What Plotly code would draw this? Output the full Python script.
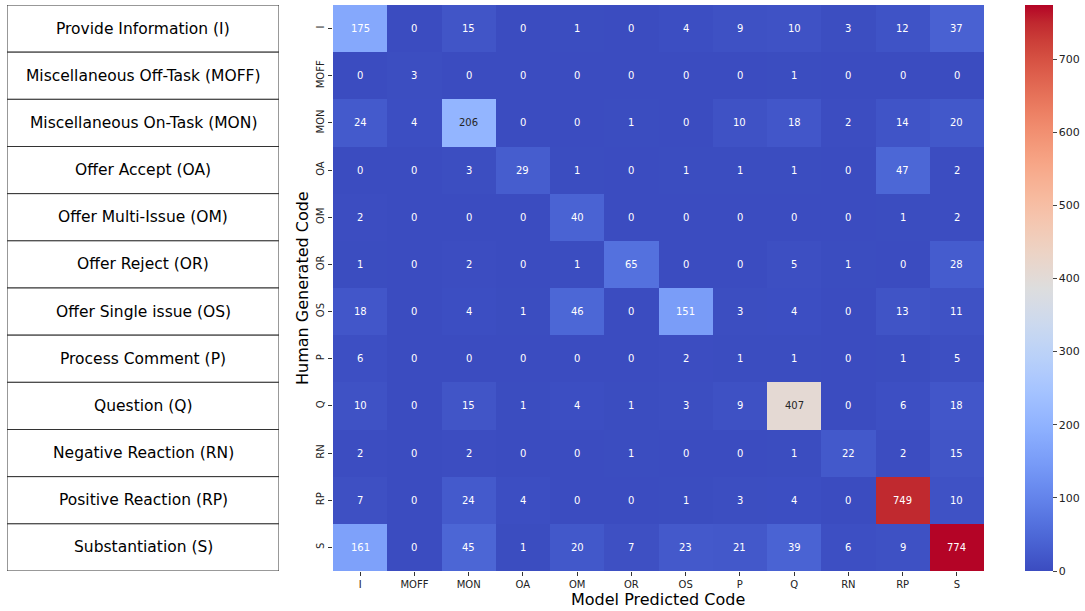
import plotly.graph_objects as go

codes = ["I", "MOFF", "MON", "OA", "OM", "OR", "OS", "P", "Q", "RN", "RP", "S"]
code_names = [
    "Provide Information (I)",
    "Miscellaneous Off-Task (MOFF)",
    "Miscellaneous On-Task (MON)",
    "Offer Accept (OA)",
    "Offer Multi-Issue (OM)",
    "Offer Reject (OR)",
    "Offer Single issue (OS)",
    "Process Comment (P)",
    "Question (Q)",
    "Negative Reaction (RN)",
    "Positive Reaction (RP)",
    "Substantiation (S)",
]
row_I = [175, 0, 15, 0, 1, 0, 4, 9, 10, 3, 12, 37]
row_MOFF = [0, 3, 0, 0, 0, 0, 0, 0, 1, 0, 0, 0]
row_MON = [24, 4, 206, 0, 0, 1, 0, 10, 18, 2, 14, 20]
row_OA = [0, 0, 3, 29, 1, 0, 1, 1, 1, 0, 47, 2]
row_OM = [2, 0, 0, 0, 40, 0, 0, 0, 0, 0, 1, 2]
row_OR = [1, 0, 2, 0, 1, 65, 0, 0, 5, 1, 0, 28]
row_OS = [18, 0, 4, 1, 46, 0, 151, 3, 4, 0, 13, 11]
row_P = [6, 0, 0, 0, 0, 0, 2, 1, 1, 0, 1, 5]
row_Q = [10, 0, 15, 1, 4, 1, 3, 9, 407, 0, 6, 18]
row_RN = [2, 0, 2, 0, 0, 1, 0, 0, 1, 22, 2, 15]
row_RP = [7, 0, 24, 4, 0, 0, 1, 3, 4, 0, 749, 10]
row_S = [161, 0, 45, 1, 20, 7, 23, 21, 39, 6, 9, 774]
matrix = [row_I, row_MOFF, row_MON, row_OA, row_OM, row_OR, row_OS, row_P, row_Q, row_RN, row_RP, row_S]
colorbar_ticks = [0, 100, 200, 300, 400, 500, 600, 700]

# matplotlib "coolwarm" approximation
cw = [
    (59, 76, 192), (68, 90, 204), (77, 104, 215), (87, 117, 225), (98, 130, 234),
    (108, 142, 241), (119, 154, 247), (130, 165, 251), (141, 176, 254), (152, 185, 255),
    (163, 194, 255), (174, 201, 253), (184, 208, 249), (194, 213, 244), (204, 217, 238),
    (213, 219, 230), (221, 221, 221), (229, 216, 209), (236, 211, 197), (241, 204, 185),
    (245, 196, 173), (247, 187, 160), (247, 177, 148), (247, 166, 135), (244, 154, 123),
    (241, 141, 111), (236, 127, 99), (229, 112, 88), (222, 96, 77), (213, 80, 66),
    (203, 62, 56), (192, 40, 47), (180, 4, 38),
]
n = len(cw) - 1
colorscale = [[i / n, "rgb(%d,%d,%d)" % c] for i, c in enumerate(cw)]

zmin = 0
zmax = max(max(r) for r in matrix)


def color_at(v):
    t = (v - zmin) / (zmax - zmin) * n
    i = min(int(t), n - 1)
    f = t - i
    a, b = cw[i], cw[i + 1]
    return [(a[k] + (b[k] - a[k]) * f) / 255 for k in range(3)]


def lum(rgb):
    def ch(c):
        return c / 12.92 if c <= 0.03928 else ((c + 0.055) / 1.055) ** 2.4
    r, g, b = [ch(c) for c in rgb]
    return 0.2126 * r + 0.7152 * g + 0.0722 * b


W, H = 1085, 611
hx0, hx1 = 333, 984
hy0, hy1 = 5, 571
tx0, tx1 = 7, 279

fig = go.Figure()
fig.add_trace(go.Heatmap(
    z=matrix, x=codes, y=codes,
    colorscale=colorscale, zmin=zmin, zmax=zmax,
    xgap=0, ygap=0,
    hoverinfo="z",
    colorbar=dict(
        x=1025 / W, xanchor="left", y=1 - hy1 / H, yanchor="bottom",
        lenmode="pixels", len=hy1 - hy0, thickness=28, thicknessmode="pixels",
        outlinewidth=0, tickvals=colorbar_ticks, ticks="outside", ticklen=4,
        tickfont=dict(family="DejaVu Sans", size=11, color="#222"),
        xpad=0, ypad=0,
    ),
))

annotations = []
for i, row in enumerate(matrix):
    for j, v in enumerate(row):
        col = "#262626" if lum(color_at(v)) > 0.408 else "white"
        annotations.append(dict(
            x=codes[j], y=codes[i], xref="x", yref="y", text=str(v), showarrow=False,
            font=dict(family="DejaVu Sans", size=10, color=col),
        ))

# left table of code names, on its own axis aligned with the heatmap rows
shapes = []
for i, name in enumerate(code_names):
    shapes.append(dict(
        type="rect", xref="x2", yref="y2", x0=0, x1=1, y0=i - 0.5, y1=i + 0.5,
        line=dict(color="#333", width=1), fillcolor="white", layer="below",
    ))
    annotations.append(dict(
        x=0.5, y=i, xref="x2", yref="y2", text=name, showarrow=False,
        font=dict(family="DejaVu Sans", size=15.5, color="black"),
    ))

annotations.append(dict(
    x=303 / W, y=1 - 288 / H, xref="paper", yref="paper", text="Human Generated Code",
    xanchor="center", yanchor="middle",
    textangle=-90, showarrow=False, font=dict(family="DejaVu Sans", size=16, color="black"),
))
annotations.append(dict(
    x=658 / W, y=1 - 599 / H, xref="paper", yref="paper", text="Model Predicted Code",
    xanchor="center", yanchor="middle",
    showarrow=False, font=dict(family="DejaVu Sans", size=16, color="black"),
))

fig.update_layout(
    width=W, height=H,
    margin=dict(l=0, r=0, t=0, b=0),
    paper_bgcolor="white", plot_bgcolor="white",
    annotations=annotations, shapes=shapes,
    xaxis=dict(
        domain=[hx0 / W, hx1 / W], anchor="y", type="category",
        ticks="outside", ticklen=4, tickcolor="#333", showgrid=False, zeroline=False,
        tickfont=dict(family="DejaVu Sans", size=10, color="#222"), showline=False,
    ),
    yaxis=dict(
        domain=[1 - hy1 / H, 1 - hy0 / H], anchor="x", type="category",
        autorange="reversed", tickangle=-90,
        ticks="outside", ticklen=4, tickcolor="#333", showgrid=False, zeroline=False,
        tickfont=dict(family="DejaVu Sans", size=10, color="#222"), showline=False,
    ),
    xaxis2=dict(
        domain=[tx0 / W, tx1 / W], anchor="y2", range=[0, 1],
        visible=False, fixedrange=True,
    ),
    yaxis2=dict(
        domain=[1 - hy1 / H, 1 - hy0 / H], anchor="x2", range=[len(code_names) - 0.5, -0.5],
        visible=False, fixedrange=True,
    ),
)

fig.write_html(
    "out.html",
    config={"displayModeBar": False},
    post_script="document.body.style.margin='0';document.body.style.overflow='hidden';",
)
